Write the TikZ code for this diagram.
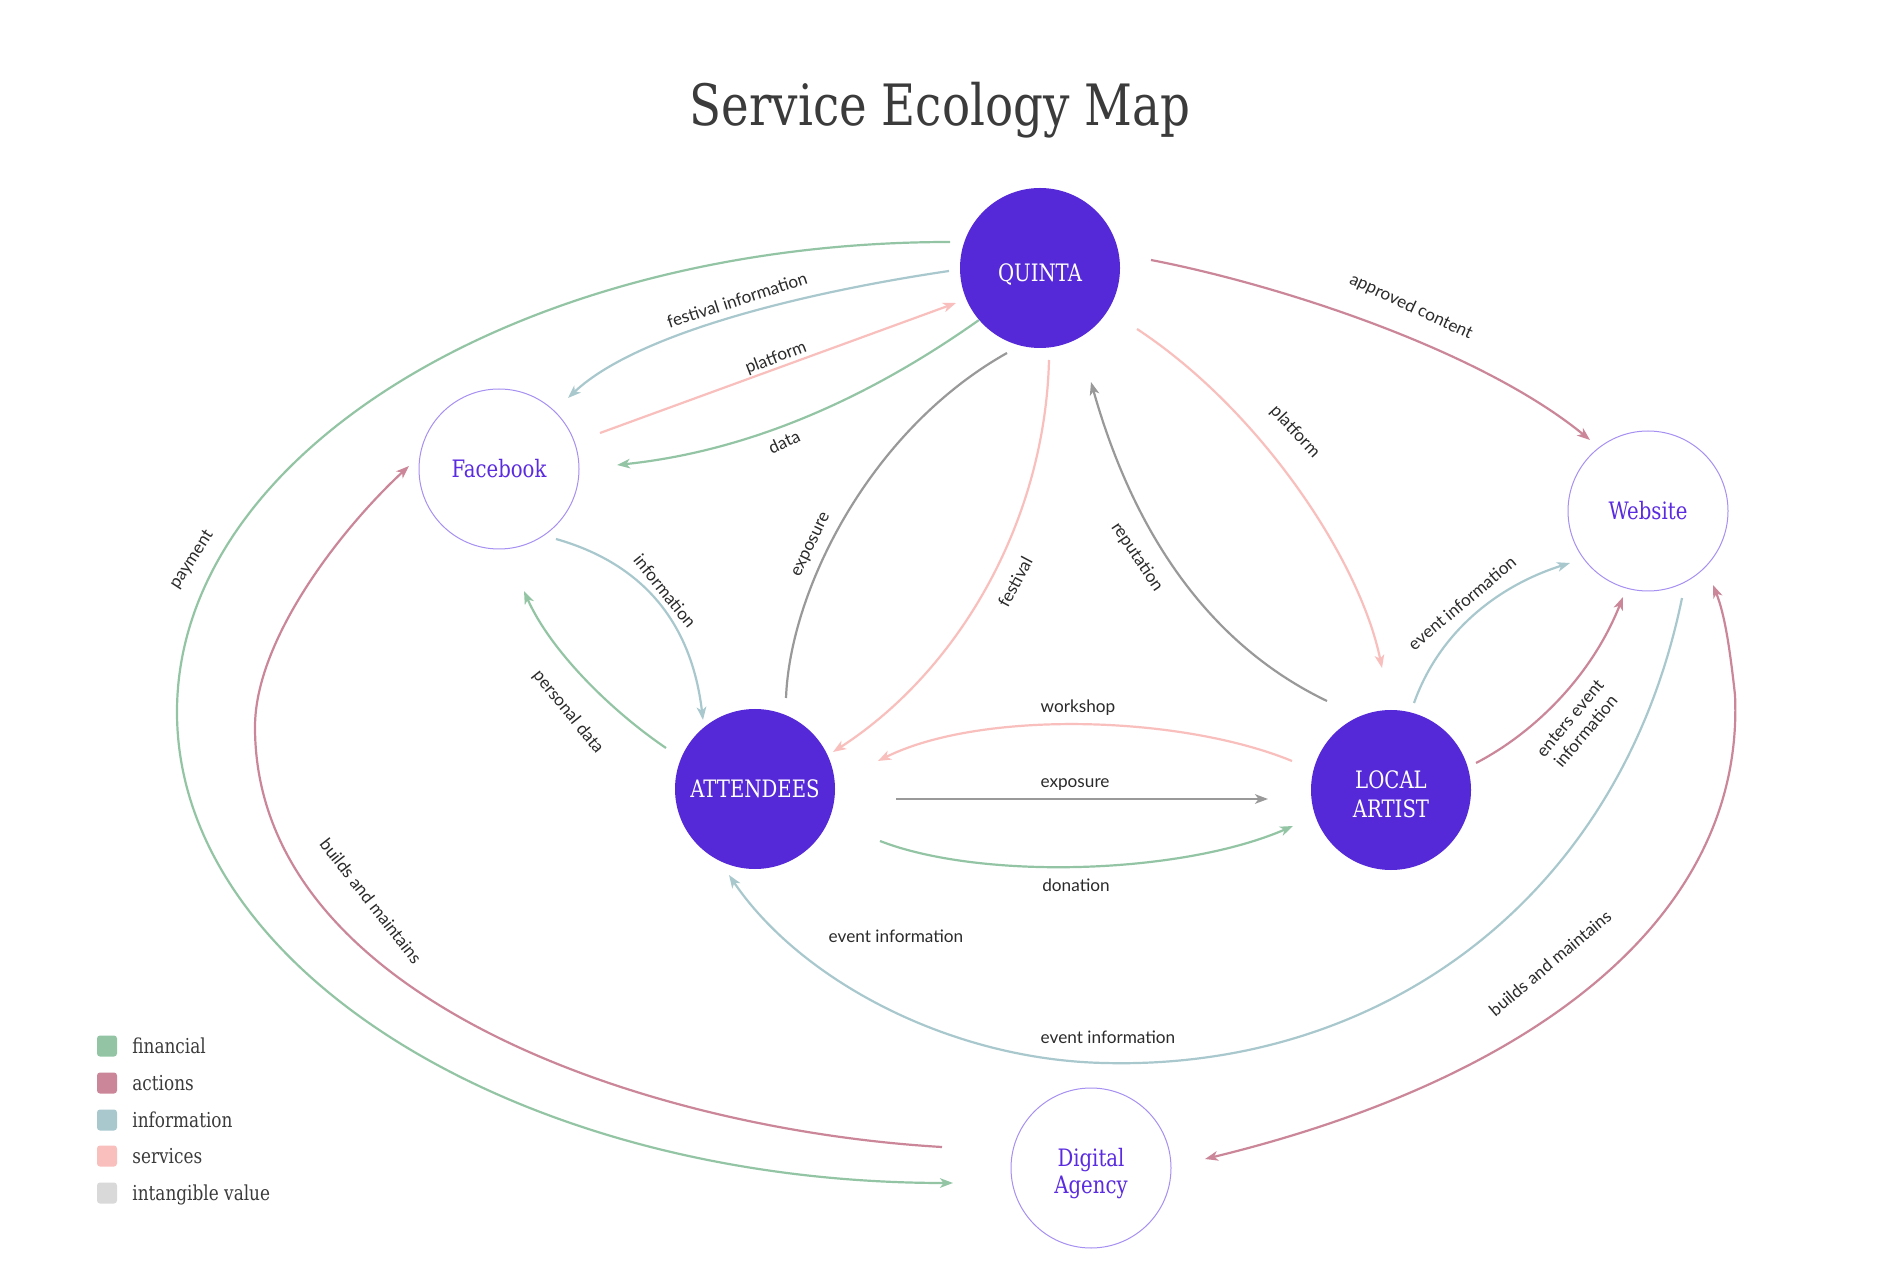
\documentclass[tikz,border=0pt]{standalone}
\usepackage{fontspec}
\usetikzlibrary{arrows.meta,calc}
\newfontfamily\slabfont[FakeStretch=0.82]{DejaVu Serif}
\newfontfamily\labelfont{Lato}
\definecolor{cfin}{HTML}{93C5A5}
\definecolor{cact}{HTML}{CB8799}
\definecolor{cinfo}{HTML}{A8C8CE}
\definecolor{cserv}{HTML}{F8BFBD}
\definecolor{cval}{HTML}{999999}
\definecolor{clegval}{HTML}{D9D9D9}
\definecolor{cnode}{HTML}{5529D7}
\definecolor{cpurple}{HTML}{5A2BE0}
\definecolor{cring}{HTML}{A690F2}
\definecolor{ctitle}{HTML}{3B3B3B}
\definecolor{clab}{HTML}{2B2B2B}
\tikzset{
  tipS/.tip={Stealth[length=6.5pt,width=4.8pt,inset=1.8pt]},
  baseline/.style={line width=1.1pt},
  finflow/.style={baseline, draw=cfin, -tipS},
  actflow/.style={baseline, draw=cact, -tipS},
  infoflow/.style={baseline, draw=cinfo, -tipS},
  servflow/.style={baseline, draw=cserv, -tipS},
  valflow/.style={baseline, draw=cval, -tipS},
  valline/.style={baseline, draw=cval},
  fillnode/.style={circle, fill=cnode, minimum size=80pt, inner sep=0pt, text=white,
    font=\slabfont\fontsize{12}{14.4}\selectfont, align=center},
  outnode/.style={circle, draw=cring, line width=0.5pt, minimum size=80pt, inner sep=0pt,
    text=cpurple, font=\slabfont\fontsize{12}{13.8}\selectfont, align=center},
  lab/.style={font=\labelfont\fontsize{8.6}{10.3}\selectfont, text=clab, inner sep=0pt, align=center},
  legbox/.style={rounded corners=1.5pt, minimum width=10pt, minimum height=10.5pt, inner sep=0pt},
  legtext/.style={anchor=base west, font=\slabfont\fontsize{10.3}{12}\selectfont, text=ctitle, inner sep=0pt}
}
\begin{document}
\begin{tikzpicture}[x=0.5pt,y=-0.5pt]
\fill[white] (0,0) rectangle (1879,1277);
\useasboundingbox (0,0) rectangle (1879,1277);

% title
\node[anchor=base, font=\slabfont\fontsize{28.5}{34}\selectfont, text=ctitle, inner sep=0pt] (title) at (940,126) {Service Ecology Map};

% nodes
\node[fillnode] (Q) at (1040,268) {\rule{0pt}{15pt}QUINTA};
\node[fillnode] (A) at (755,789) {ATTENDEES};
\node[fillnode] (L) at (1391,790) {\rule{0pt}{13.5pt}LOCAL\\ARTIST};
\node[outnode] (F) at (499,469) {Facebook};
\node[outnode] (W) at (1648,511) {Website};
\node[outnode] (D) at (1091,1168) {\rule{0pt}{14.5pt}Digital\\Agency};

% edges
\draw[finflow] ($(Q)+(-90,-26)$) .. controls (523,242) and (177,452) .. (177,712)
   .. controls (177,972) and (523,1183) .. ($(D)+(-138,15)$);
\draw[infoflow] ($(Q)+(-91,3)$) .. controls (820,290) and (640,330) .. ($(F)+(69,-71)$);
\draw[servflow] ($(F)+(101,-36)$) -- ($(Q)+(-84,35)$);
\draw[finflow] ($(Q)+(-61,52)$) .. controls (880,390) and (760,450) .. ($(F)+(118,-4)$);
\draw[actflow] ($(Q)+(111,-8)$) .. controls (1280,285) and (1480,350) .. ($(W)+(-58,-71)$);
\draw[servflow] ($(Q)+(97,61)$) .. controls (1260,410) and (1360,560) .. ($(L)+(-9,-122)$);
\draw[valflow] ($(L)+(-64,-89)$) .. controls (1200,640) and (1130,520) .. ($(Q)+(51,114)$);
\draw[valline] ($(A)+(31,-91)$) .. controls (790,590) and (870,430) .. ($(Q)+(-33,85)$);
\draw[servflow] ($(Q)+(9,92)$) .. controls (1045,520) and (960,670) .. ($(A)+(78,-37)$);
\draw[infoflow] ($(F)+(57,70)$) .. controls (630,560) and (690,610) .. ($(A)+(-52,-69)$);
\draw[finflow] ($(A)+(-89,-41)$) .. controls (610,710) and (550,650) .. ($(F)+(25,122)$);
\draw[actflow] ($(D)+(-149,-21)$) .. controls (650,1130) and (255,1000) .. (255,727)
   .. controls (255,640) and (340,530) .. ($(F)+(-90,-3)$);
\draw[servflow] ($(L)+(-99,-29)$) .. controls (1180,715) and (980,710) .. ($(A)+(123,-28)$);
\draw[valflow] ($(A)+(141,10)$) -- ($(L)+(-123,9)$);
\draw[finflow] ($(A)+(125,52)$) .. controls (980,880) and (1180,875) .. ($(L)+(-98,36)$);
\draw[infoflow] ($(L)+(23,-87)$) .. controls (1440,630) and (1500,585) .. ($(W)+(-78,52)$);
\draw[actflow] ($(L)+(85,-27)$) .. controls (1530,735) and (1590,680) .. ($(W)+(-25,86)$);
\draw[infoflow] ($(W)+(34,87)$) .. controls (1620,900) and (1380,1070) .. (1105,1063)
   .. controls (950,1060) and (800,980) .. ($(A)+(-26,86)$);
\draw[actflow, tipS-tipS] ($(D)+(114,-9)$) .. controls (1530,1080) and (1745,920) .. (1735,695)
   .. controls (1730,650) and (1725,615) .. ($(W)+(65,74)$);

% edge labels
\node[lab, rotate=57] (lpay) at (192,560) {payment};
\node[lab, rotate=18] (lfinfo) at (737,300) {festival information};
\node[lab, rotate=21] (lplat1) at (776,358) {platform};
\node[lab, rotate=25] (ldata) at (784,442) {data};
\node[lab, rotate=-25] (lappr) at (1411,307) {approved content};
\node[lab, rotate=-47] (lplat2) at (1295,432) {platform};
\node[lab, rotate=-56] (lrep) at (1137,557) {reputation};
\node[lab, rotate=64] (lexp1) at (812,545) {exposure};
\node[lab, rotate=62] (lfest) at (1015,582) {festival};
\node[lab, rotate=-51] (linfo) at (665,591) {information};
\node[lab, rotate=-51] (lpers) at (568,712) {personal data};
\node[lab, rotate=-52] (lbuild1) at (371,901) {builds and maintains};
\node[lab] (lwork) at (1078,708) {workshop};
\node[lab] (lexp2) at (1075,785) {exposure};
\node[lab] (ldon) at (1076,885) {donation};
\node[lab, rotate=40] (levt1) at (1462,603) {event information};
\node[lab, rotate=50] (lenter) at (1578,725) {enters event\\information};
\node[lab] (levt2) at (1108,1037) {event information};
\node[lab] (levt3) at (896,936) {event information};
\node[lab, rotate=40] (lbuild2) at (1550,963) {builds and maintains};

% legend
\node[legbox, fill=cfin] (kfin) at (107,1046) {};
\node[legbox, fill=cact] (kact) at (107,1083) {};
\node[legbox, fill=cinfo] (kinfo) at (107,1120) {};
\node[legbox, fill=cserv] (kserv) at (107,1156) {};
\node[legbox, fill=clegval] (kval) at (107,1193) {};
\node[legtext] (tfin) at (132,1053) {financial};
\node[legtext] (tact) at (132,1090) {actions};
\node[legtext] (tinfo) at (132,1127) {information};
\node[legtext] (tserv) at (132,1163) {services};
\node[legtext] (tval) at (132,1200) {intangible value};
\end{tikzpicture}
\end{document}
